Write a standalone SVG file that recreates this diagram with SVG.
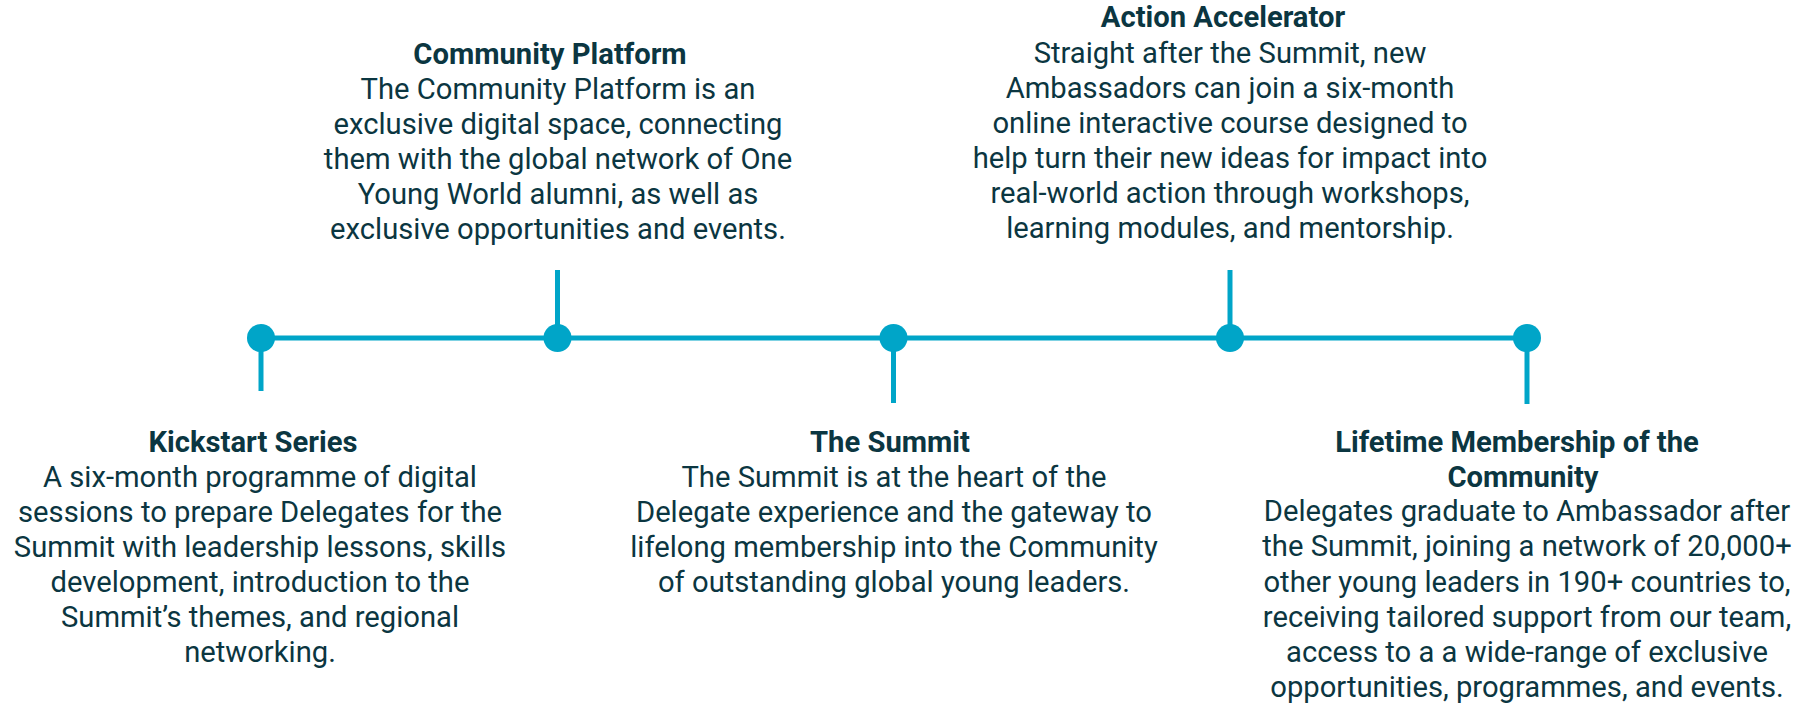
<svg xmlns="http://www.w3.org/2000/svg" width="1810" height="703" viewBox="0 0 1810 703">
<style>
.ln{stroke:#00a5c8;stroke-width:5;fill:none}
.dot{fill:#00a5c8}
text{font-family:Roboto,"Liberation Sans",sans-serif;font-size:29.2px;fill:#0b3641;text-anchor:middle}
.t{font-weight:bold}
</style>
<rect width="1810" height="703" fill="#fff"/>
<g id="connectors">
<line class="ln" x1="261" y1="338" x2="1527" y2="338"/>
</g>
<g id="kickstart">
<line class="ln" x1="261" y1="338" x2="261" y2="391"/>
<circle class="dot" cx="261" cy="338" r="14"/>
<text class="t" x="253" y="452">Kickstart Series</text>
<text x="260" y="486.5">A six-month programme of digital</text>
<text x="260" y="521.5">sessions to prepare Delegates for the</text>
<text x="260" y="556.7">Summit with leadership lessons, skills</text>
<text x="260" y="591.8">development, introduction to the</text>
<text x="260" y="627">Summit’s themes, and regional</text>
<text x="260" y="662.3">networking.</text>
</g>
<g id="community-platform">
<line class="ln" x1="557.5" y1="270" x2="557.5" y2="338"/>
<circle class="dot" cx="557.5" cy="338" r="14"/>
<text class="t" x="550" y="63.5">Community Platform</text>
<text x="558" y="98.5">The Community Platform is an</text>
<text x="558" y="133.5">exclusive digital space, connecting</text>
<text x="558" y="168.5">them with the global network of One</text>
<text x="558" y="203.5">Young World alumni, as well as</text>
<text x="558" y="238.5">exclusive opportunities and events.</text>
</g>
<g id="summit">
<line class="ln" x1="893.5" y1="338" x2="893.5" y2="403"/>
<circle class="dot" cx="893.5" cy="338" r="14"/>
<text class="t" x="890" y="452">The Summit</text>
<text x="894" y="486.5">The Summit is at the heart of the</text>
<text x="894" y="521.5">Delegate experience and the gateway to</text>
<text x="894" y="556.7">lifelong membership into the Community</text>
<text x="894" y="591.8">of outstanding global young leaders.</text>
</g>
<g id="action-accelerator">
<line class="ln" x1="1230" y1="270" x2="1230" y2="338"/>
<circle class="dot" cx="1230" cy="338" r="14"/>
<text class="t" x="1223" y="27">Action Accelerator</text>
<text x="1230" y="62.7">Straight after the Summit, new</text>
<text x="1230" y="97.7">Ambassadors can join a six-month</text>
<text x="1230" y="132.7">online interactive course designed to</text>
<text x="1230" y="167.7">help turn their new ideas for impact into</text>
<text x="1230" y="202.7">real-world action through workshops,</text>
<text x="1230" y="237.7">learning modules, and mentorship.</text>
</g>
<g id="lifetime-membership">
<line class="ln" x1="1527" y1="338" x2="1527" y2="404"/>
<circle class="dot" cx="1527" cy="338" r="14"/>
<text class="t" x="1517" y="452">Lifetime Membership of the</text>
<text class="t" x="1523" y="487">Community</text>
<text x="1527" y="521">Delegates graduate to Ambassador after</text>
<text x="1527" y="556.3">the Summit, joining a network of 20,000+</text>
<text x="1527" y="591.5">other young leaders in 190+ countries to,</text>
<text x="1527" y="626.7">receiving tailored support from our team,</text>
<text x="1527" y="661.8">access to a a wide-range of exclusive</text>
<text x="1527" y="697">opportunities, programmes, and events.</text>
</g>
</svg>
